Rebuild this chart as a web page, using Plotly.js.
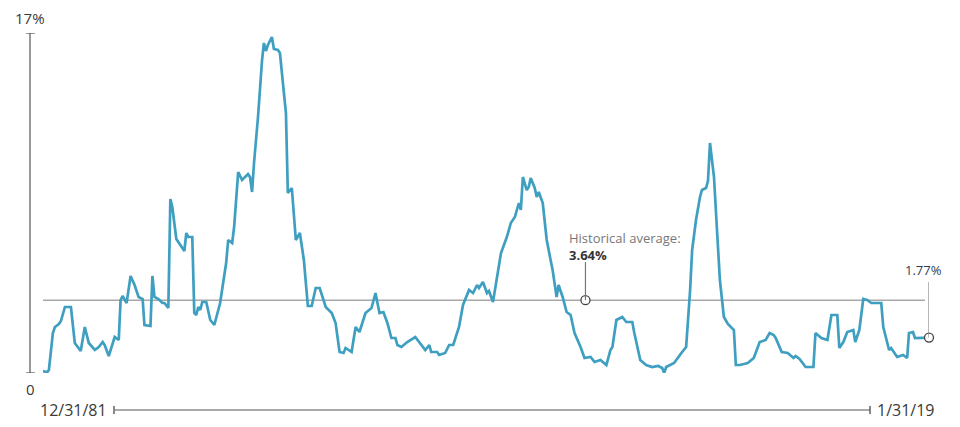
<!DOCTYPE html>
<html>
<head>
<meta charset="utf-8">
<script src="https://cdn.plot.ly/plotly-3.0.1.min.js"></script>
<style>
  body { margin: 0; background: #fff; }
  #chart { width: 960px; height: 427px; }
</style>
</head>
<body>
<div id="chart"></div>
<script>
//------------INPUT DATA------------
// month ends, 12/31/81 .. 1/31/19
const dates = [
  "1981-12", "1982-02", "1982-03", "1982-05", "1982-06", "1982-08", "1982-09", "1982-11",
  "1983-02", "1983-04", "1983-07", "1983-09", "1983-11", "1984-02", "1984-04", "1984-06",
  "1984-07", "1984-09", "1984-12", "1985-02", "1985-03", "1985-04", "1985-06", "1985-08",
  "1985-10", "1985-12", "1986-02", "1986-03", "1986-06", "1986-07", "1986-08", "1986-10",
  "1986-12", "1987-01", "1987-03", "1987-04", "1987-05", "1987-07", "1987-11", "1987-12",
  "1988-01", "1988-03", "1988-04", "1988-05", "1988-06", "1988-07", "1988-08", "1988-10",
  "1988-12", "1989-02", "1989-05", "1989-07", "1989-08", "1989-09", "1989-11", "1989-12",
  "1990-02", "1990-04", "1990-05", "1990-07", "1990-08", "1990-09", "1990-10", "1990-12",
  "1991-02", "1991-03", "1991-04", "1991-05", "1991-07", "1991-08", "1991-10", "1991-11",
  "1992-02", "1992-03", "1992-05", "1992-07", "1992-09", "1992-11", "1993-01", "1993-03",
  "1993-05", "1993-07", "1993-10", "1994-01", "1994-03", "1994-05", "1994-07", "1994-08",
  "1994-11", "1995-01", "1995-03", "1995-06", "1995-09", "1995-11", "1996-01", "1996-03",
  "1996-05", "1996-07", "1996-09", "1996-10", "1996-12", "1997-03", "1997-07", "1997-09",
  "1997-12", "1998-02", "1998-03", "1998-06", "1998-07", "1998-10", "1998-12", "1999-02",
  "1999-05", "1999-07", "1999-10", "1999-12", "2000-02", "2000-03", "2000-05", "2000-07",
  "2000-08", "2000-10", "2000-12", "2001-02", "2001-05", "2001-07", "2001-09", "2001-11",
  "2001-12", "2002-01", "2002-03", "2002-04", "2002-05", "2002-07", "2002-08", "2002-09",
  "2002-11", "2003-01", "2003-03", "2003-04", "2003-06", "2003-07", "2003-09", "2003-11",
  "2004-01", "2004-03", "2004-06", "2004-08", "2004-11", "2005-01", "2005-04", "2005-07",
  "2005-09", "2005-10", "2005-12", "2006-03", "2006-05", "2006-08", "2006-09", "2006-11",
  "2006-12", "2007-03", "2007-06", "2007-09", "2007-11", "2007-12", "2008-01", "2008-05",
  "2008-07", "2008-09", "2008-11", "2009-01", "2009-02", "2009-04", "2009-06", "2009-07",
  "2009-09", "2009-10", "2009-11", "2010-01", "2010-02", "2010-04", "2010-06", "2010-08",
  "2010-11", "2010-12", "2011-02", "2011-06", "2011-09", "2011-10", "2011-12", "2012-03",
  "2012-05", "2012-07", "2012-08", "2012-11", "2013-02", "2013-05", "2013-06", "2013-08",
  "2013-11", "2014-03", "2014-04", "2014-07", "2014-10", "2014-12", "2015-03", "2015-04",
  "2015-06", "2015-08", "2015-11", "2015-12", "2016-02", "2016-04", "2016-06", "2016-08",
  "2017-01", "2017-02", "2017-05", "2017-06", "2017-09", "2017-12", "2018-02", "2018-03",
  "2018-05", "2018-06", "2018-11", "2019-01"
];

// rate, %
const rates = [
  0.1, 0.03, 0.15, 2.0, 2.3, 2.45, 2.6, 3.3,
  3.3, 1.5, 1.1, 2.3, 1.5, 1.15, 1.3, 1.55,
  1.4, 0.85, 1.8, 1.65, 3.65, 3.85, 3.5, 4.85,
  4.4, 3.8, 3.7, 2.4, 2.35, 4.85, 3.8, 3.7,
  3.5, 3.5, 3.25, 8.7, 8.3, 6.7, 6.1, 7.0,
  6.8, 6.8, 3.0, 2.9, 3.3, 3.15, 3.55, 3.55,
  2.65, 2.4, 3.5, 4.8, 5.5, 6.65, 6.5, 7.3,
  10.05, 9.65, 9.75, 9.95, 9.8, 9.05, 10.5, 12.8,
  15.65, 16.5, 16.1, 16.4, 16.8, 16.2, 16.15, 16.0,
  13.0, 9.0, 9.25, 6.65, 7.0, 5.65, 3.35, 3.35,
  4.25, 4.25, 3.3, 3.0, 2.5, 1.05, 1.0, 1.25,
  1.05, 2.3, 2.05, 3.0, 3.25, 4.0, 3.0, 3.05,
  2.5, 1.75, 1.75, 1.4, 1.3, 1.55, 1.8, 1.55,
  1.15, 1.4, 1.05, 1.05, 0.9, 1.0, 1.4, 1.4,
  2.3, 3.4, 4.15, 4.0, 4.4, 4.25, 4.55, 4.0,
  4.1, 3.55, 4.8, 6.0, 6.8, 7.5, 7.8, 8.5,
  8.15, 9.8, 9.15, 9.3, 9.75, 9.25, 8.8, 9.05,
  8.5, 6.65, 5.65, 5.15, 3.8, 4.4, 3.8, 3.05,
  2.9, 2.0, 1.3, 0.75, 0.8, 0.55, 0.65, 0.4,
  1.15, 1.3, 2.65, 2.8, 2.55, 2.55, 2.0, 1.0,
  0.65, 0.4, 0.3, 0.35, 0.25, 0.0, 0.3, 0.5,
  0.8, 1.05, 1.3, 4.15, 6.15, 7.65, 8.8, 9.15,
  9.25, 9.6, 11.5, 9.8, 8.0, 4.65, 2.8, 2.45,
  2.15, 0.4, 0.4, 0.5, 0.75, 1.0, 1.55, 1.65,
  2.0, 1.9, 1.75, 1.05, 1.0, 0.75, 0.85, 0.7,
  0.3, 0.3, 2.0, 1.75, 1.65, 2.9, 2.9, 1.25,
  1.55, 2.05, 2.15, 1.55, 2.15, 3.7, 3.65, 3.5,
  3.5, 2.3, 1.15, 1.25, 0.8, 0.9, 0.75, 2.0,
  2.05, 1.75, 1.75, 1.77
];

const HIST_AVG = 3.64;
const LAST_VALUE = 1.77;
const AVG_MARK_DATE = "2004-08-15";
const START_LABEL = "12/31/81";
const END_LABEL = "1/31/19";
//------------END INPUT DATA------------

const LINE_COLOR = "#3f9fc0";
const AXIS_COLOR = "#555";
const TEXT_COLOR = "#3a3a3a";

// pixel helpers (plot area is 886 px wide, 340 px high)
const PW = 886;
const PH = 340;
const px = (d) => d / PW;
const py = (d) => d / PH;

function drawChart() {
  const series = {
    x: dates,
    y: rates,
    type: "scatter",
    mode: "lines",
    line: { color: LINE_COLOR, width: 2.7 },
    hoverinfo: "none",
  };

  // the two open circles
  const marks = {
    x: [AVG_MARK_DATE, dates[dates.length - 1]],
    y: [HIST_AVG, LAST_VALUE],
    type: "scatter",
    mode: "markers",
    marker: { size: 9, color: "#fff", line: { color: "#444", width: 1.3 } },
    hoverinfo: "none",
    cliponaxis: false,
  };

  const yAxisX = px(-13);
  const bottomY = -py(37);

  const shapes = [
    // average line
    { type: "line", xref: "paper", yref: "y", x0: 0, x1: px(882), y0: HIST_AVG, y1: HIST_AVG,
      line: { color: "#a8a8a8", width: 1.4 }, layer: "below" },
    // y axis + end ticks
    { type: "line", xref: "paper", yref: "y", x0: yAxisX, x1: yAxisX, y0: 0, y1: 17,
      line: { color: AXIS_COLOR, width: 1.2 } },
    { type: "line", xref: "paper", yref: "y", x0: px(-17), x1: px(-8), y0: 17, y1: 17,
      line: { color: AXIS_COLOR, width: 1.2 } },
    { type: "line", xref: "paper", yref: "y", x0: px(-17), x1: px(-8), y0: 0, y1: 0,
      line: { color: AXIS_COLOR, width: 1.2 } },
    // bottom time axis + end ticks
    { type: "line", xref: "paper", yref: "paper", x0: px(72), x1: px(827), y0: bottomY, y1: bottomY,
      line: { color: AXIS_COLOR, width: 1.2 } },
    { type: "line", xref: "paper", yref: "paper", x0: px(71), x1: px(71), y0: bottomY - py(4), y1: bottomY + py(4),
      line: { color: AXIS_COLOR, width: 1.4 } },
    { type: "line", xref: "paper", yref: "paper", x0: px(827), x1: px(827), y0: bottomY - py(4), y1: bottomY + py(4),
      line: { color: AXIS_COLOR, width: 1.4 } },
    // leaders
    { type: "line", xref: "x", yref: "y", x0: AVG_MARK_DATE, x1: AVG_MARK_DATE, y0: HIST_AVG, y1: 5.55,
      line: { color: "#777", width: 1.2 } },
    { type: "line", xref: "x", yref: "y", x0: dates[dates.length - 1], x1: dates[dates.length - 1],
      y0: LAST_VALUE, y1: 4.55, line: { color: "#888", width: 1.2 } },
  ];

  const font = { family: "Open Sans, sans-serif", size: 16, color: TEXT_COLOR };
  const small = { family: "Open Sans, sans-serif", size: 13 };

  const annotations = [
    { xref: "paper", yref: "y", x: yAxisX, y: 17, yshift: 15, xanchor: "center", yanchor: "middle",
      text: "17%", showarrow: false, font: { ...font, size: 15 } },
    { xref: "paper", yref: "y", x: yAxisX, y: 0, yshift: -16, xanchor: "center", yanchor: "middle",
      text: "0", showarrow: false, font: { ...font, size: 15 } },
    { xref: "paper", yref: "paper", x: px(66), y: bottomY, xanchor: "right", yanchor: "middle",
      text: START_LABEL, showarrow: false, font: font },
    { xref: "paper", yref: "paper", x: px(832), y: bottomY, xanchor: "left", yanchor: "middle",
      text: END_LABEL, showarrow: false, font: font },
    // average label, two lines in one box
    { xref: "x", yref: "y", x: AVG_MARK_DATE, xshift: -18, y: 6.35, xanchor: "left", yanchor: "middle",
      align: "left",
      text: "Historical average:<br><span style='color:#333'><b>" + HIST_AVG.toFixed(2) + "%</b></span>",
      showarrow: false, font: { ...small, color: "#777" } },
    { xref: "x", yref: "y", x: dates[dates.length - 1], xshift: -6, y: 5.15, xanchor: "center", yanchor: "middle",
      text: LAST_VALUE.toFixed(2) + "%", showarrow: false, font: { ...small, color: "#2b3d52" } },
  ];

  const layout = {
    width: 960,
    height: 427,
    margin: { t: 33, b: 54, l: 43, r: 31 },
    paper_bgcolor: "#fff",
    plot_bgcolor: "#fff",
    showlegend: false,
    xaxis: {
      type: "date",
      range: ["1981-12-01", "2019-01-01"],
      visible: false,
    },
    yaxis: {
      range: [0, 17],
      visible: false,
    },
    shapes: shapes,
    annotations: annotations,
  };

  Plotly.newPlot("chart", [series, marks], layout, { staticPlot: true });
}

drawChart();
</script>
</body>
</html>
